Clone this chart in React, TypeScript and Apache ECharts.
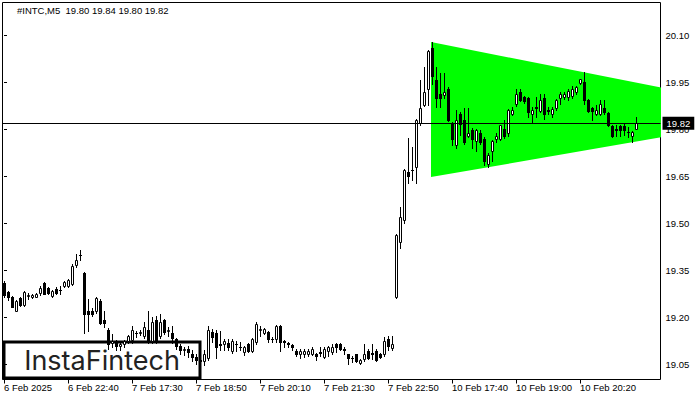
import React, { useEffect, useRef } from "react";
import * as echarts from "echarts";

const SYMBOL = "#INTC,M5";

// [open, close, low, high] per 5-minute bar
const FEB6_BARS: number[][] = [
  [19.31, 19.272, 19.265, 19.318], [19.28, 19.265, 19.255, 19.286], [19.265, 19.235, 19.232, 19.268],
  [19.222, 19.254, 19.22, 19.256], [19.262, 19.24, 19.236, 19.265], [19.24, 19.281, 19.237, 19.286],
  [19.27, 19.271, 19.258, 19.279], [19.265, 19.272, 19.262, 19.276], [19.266, 19.275, 19.264, 19.278],
  [19.278, 19.294, 19.272, 19.299], [19.31, 19.276, 19.274, 19.312], [19.294, 19.278, 19.276, 19.297],
  [19.27, 19.284, 19.266, 19.288], [19.292, 19.278, 19.275, 19.296], [19.288, 19.289, 19.276, 19.299],
  [19.299, 19.313, 19.297, 19.316], [19.3, 19.32, 19.298, 19.323], [19.307, 19.363, 19.305, 19.371],
  [19.366, 19.384, 19.36, 19.403], [19.398, 19.4, 19.385, 19.414],
];

const FEB7_BARS: number[][] = [
  [19.342, 19.212, 19.15, 19.345], [19.222, 19.212, 19.158, 19.26], [19.222, 19.212, 19.205, 19.23],
  [19.22, 19.263, 19.215, 19.265], [19.254, 19.182, 19.178, 19.258], [19.192, 19.182, 19.169, 19.222],
  [19.16, 19.115, 19.1, 19.165], [19.12, 19.125, 19.105, 19.148], [19.125, 19.11, 19.095, 19.128],
  [19.11, 19.115, 19.095, 19.122], [19.115, 19.125, 19.105, 19.128], [19.125, 19.142, 19.12, 19.145],
  [19.128, 19.16, 19.12, 19.174], [19.15, 19.152, 19.137, 19.158], [19.152, 19.155, 19.145, 19.16],
  [19.142, 19.171, 19.135, 19.185], [19.16, 19.126, 19.12, 19.222], [19.126, 19.185, 19.12, 19.2],
  [19.192, 19.126, 19.12, 19.206], [19.142, 19.185, 19.135, 19.212], [19.192, 19.153, 19.148, 19.196],
  [19.158, 19.16, 19.14, 19.17], [19.15, 19.135, 19.12, 19.174], [19.13, 19.11, 19.1, 19.135],
  [19.11, 19.095, 19.085, 19.115], [19.095, 19.1, 19.08, 19.105], [19.1, 19.09, 19.075, 19.11],
  [19.085, 19.075, 19.06, 19.095], [19.075, 19.065, 19.05, 19.085], [19.065, 19.06, 19.045, 19.075],
  [19.061, 19.082, 19.047, 19.095], [19.071, 19.161, 19.065, 19.174], [19.153, 19.139, 19.121, 19.164],
  [19.151, 19.105, 19.072, 19.16], [19.116, 19.112, 19.095, 19.158], [19.114, 19.124, 19.095, 19.132],
  [19.119, 19.105, 19.095, 19.132], [19.092, 19.124, 19.088, 19.13], [19.116, 19.114, 19.092, 19.124],
  [19.106, 19.105, 19.095, 19.121], [19.09, 19.105, 19.08, 19.11], [19.116, 19.094, 19.09, 19.12],
  [19.094, 19.132, 19.09, 19.135], [19.121, 19.18, 19.115, 19.185], [19.16, 19.162, 19.142, 19.174],
  [19.151, 19.164, 19.148, 19.167], [19.153, 19.132, 19.121, 19.158], [19.13, 19.13, 19.121, 19.138],
  [19.132, 19.174, 19.121, 19.176], [19.174, 19.121, 19.092, 19.176], [19.125, 19.122, 19.105, 19.127],
  [19.118, 19.116, 19.105, 19.121], [19.112, 19.105, 19.095, 19.116], [19.094, 19.082, 19.078, 19.1],
  [19.084, 19.094, 19.071, 19.1], [19.082, 19.094, 19.075, 19.1], [19.083, 19.094, 19.078, 19.1],
  [19.084, 19.1, 19.079, 19.105], [19.084, 19.076, 19.063, 19.088], [19.09, 19.088, 19.076, 19.105],
  [19.074, 19.1, 19.07, 19.105], [19.094, 19.105, 19.078, 19.11], [19.09, 19.105, 19.085, 19.115],
  [19.116, 19.105, 19.09, 19.12], [19.116, 19.1, 19.095, 19.12], [19.098, 19.097, 19.082, 19.105],
  [19.082, 19.071, 19.052, 19.085], [19.072, 19.071, 19.058, 19.078], [19.082, 19.061, 19.058, 19.085],
  [19.054, 19.065, 19.05, 19.068], [19.068, 19.084, 19.062, 19.116], [19.094, 19.071, 19.066, 19.1],
  [19.086, 19.085, 19.068, 19.116], [19.094, 19.063, 19.06, 19.1], [19.084, 19.073, 19.07, 19.087],
  [19.082, 19.124, 19.078, 19.137], [19.132, 19.108, 19.095, 19.142], [19.103, 19.116, 19.095, 19.142],
];

const FEB10_BARS: number[][] = [
  [19.265, 19.462, 19.262, 19.465], [19.44, 19.522, 19.422, 19.552], [19.512, 19.671, 19.5, 19.675],
  [19.664, 19.651, 19.629, 19.773], [19.671, 19.672, 19.639, 19.744], [19.68, 19.831, 19.629, 19.833],
  [19.821, 19.869, 19.815, 19.958], [19.877, 19.921, 19.875, 20.001], [19.93, 20.052, 19.877, 20.055],
  [20.061, 19.97, 19.946, 20.079], [19.959, 19.9, 19.871, 20.001], [19.912, 19.9, 19.873, 19.981],
  [19.911, 19.921, 19.9, 19.981], [19.93, 19.831, 19.826, 19.935], [19.82, 19.769, 19.749, 19.825],
  [19.751, 19.831, 19.741, 19.861], [19.85, 19.816, 19.781, 19.855], [19.831, 19.76, 19.755, 19.869],
  [19.78, 19.79, 19.776, 19.869], [19.799, 19.769, 19.741, 19.805], [19.762, 19.799, 19.731, 19.802],
  [19.79, 19.76, 19.755, 19.799], [19.77, 19.699, 19.688, 19.775], [19.69, 19.72, 19.68, 19.725],
  [19.731, 19.762, 19.701, 19.765], [19.77, 19.78, 19.76, 19.789], [19.77, 19.813, 19.765, 19.815],
  [19.802, 19.778, 19.774, 19.829], [19.788, 19.861, 19.78, 19.865], [19.85, 19.861, 19.845, 19.871],
  [19.88, 19.914, 19.876, 19.93], [19.921, 19.893, 19.89, 19.93], [19.903, 19.89, 19.885, 19.908],
  [19.901, 19.855, 19.839, 19.905], [19.85, 19.861, 19.823, 19.871], [19.871, 19.869, 19.839, 19.903],
  [19.859, 19.893, 19.855, 19.914], [19.901, 19.85, 19.834, 19.914], [19.861, 19.86, 19.85, 19.871],
  [19.85, 19.866, 19.84, 19.871], [19.869, 19.893, 19.861, 19.898], [19.901, 19.914, 19.882, 19.919],
  [19.903, 19.914, 19.898, 19.919], [19.903, 19.922, 19.893, 19.93], [19.908, 19.93, 19.9, 19.94],
  [19.919, 19.935, 19.914, 19.94], [19.948, 19.96, 19.944, 19.962], [19.951, 19.893, 19.88, 19.983],
  [19.893, 19.859, 19.855, 19.898], [19.869, 19.859, 19.829, 19.872], [19.85, 19.861, 19.845, 19.877],
  [19.85, 19.88, 19.845, 19.895], [19.869, 19.855, 19.85, 19.893], [19.852, 19.813, 19.81, 19.856],
  [19.81, 19.778, 19.775, 19.813], [19.8, 19.799, 19.778, 19.813], [19.81, 19.797, 19.778, 19.813],
  [19.81, 19.797, 19.781, 19.818], [19.792, 19.791, 19.776, 19.808], [19.778, 19.792, 19.76, 19.795],
  [19.8, 19.82, 19.8, 19.84],
];

const TIME_LABELS = [
  "6 Feb 2025", "6 Feb 22:40", "7 Feb 17:30", "7 Feb 18:50", "7 Feb 20:10",
  "7 Feb 21:30", "7 Feb 22:50", "10 Feb 17:40", "10 Feb 19:00", "10 Feb 20:20",
];
const LABEL_STEP_BARS = 16;

const PRICE_TICKS = ["19.05", "19.20", "19.35", "19.50", "19.65", "19.80", "19.95", "20.10"];
const CURRENT_PRICE = 19.82;

// symmetrical triangle pattern vertices (bar index, price)
const TRIANGLE_BARS = [106.75, 197.8, 106.75];
const TRIANGLE_PRICES = [20.079, 19.85, 19.648];

const X_RANGE = [-0.375, 164.125];
const Y_RANGE = [19.0021, 20.2053];

const FONT = "Liberation Sans, Arial, sans-serif";

export default function App() {
  const ref = useRef<HTMLDivElement>(null);

  useEffect(() => {
    document.body.style.margin = "0";
    if (!ref.current) return;
    const chart = echarts.init(ref.current, undefined, { renderer: "svg" });

    const bars = [...FEB6_BARS, ...FEB7_BARS, ...FEB10_BARS];
    const candleData = bars.map((b, i) => [i, b[0], b[1], b[2], b[3]]);
    const last = bars[bars.length - 1];
    const titleText = `${SYMBOL}  ${last[0].toFixed(2)} ${last[3].toFixed(2)} ${last[2].toFixed(2)} ${last[1].toFixed(2)}`;
    const tickIdx = TIME_LABELS.map((_, k) => k * LABEL_STEP_BARS);
    const priceTicks = PRICE_TICKS.map(Number);

    const option: any = {
      animation: false,
      backgroundColor: "#fff",
      title: {
        text: titleText,
        left: 17,
        top: 5,
        padding: 0,
        textStyle: { fontSize: 9.5, fontWeight: "normal", color: "#000", fontFamily: FONT },
      },
      grid: {
        left: 2.5,
        top: 2.5,
        right: 39.5,
        bottom: 20.5,
        show: true,
        borderColor: "#000",
        borderWidth: 1,
        backgroundColor: "transparent",
      },
      xAxis: {
        type: "value",
        min: X_RANGE[0],
        max: X_RANGE[1],
        axisLine: { show: false },
        splitLine: { show: false },
        axisTick: {
          show: true,
          length: 4,
          lineStyle: { color: "#000" },
          customValues: tickIdx,
        },
        axisLabel: {
          customValues: tickIdx,
          formatter: (v: number) => TIME_LABELS[Math.round(v / LABEL_STEP_BARS)] ?? "",
          align: "left",
          margin: 3,
          color: "#000",
          fontSize: 9.5,
          fontFamily: FONT,
        },
      },
      yAxis: {
        type: "value",
        position: "right",
        min: Y_RANGE[0],
        max: Y_RANGE[1],
        axisLine: { show: false },
        splitLine: { show: false },
        axisTick: {
          show: true,
          length: 3,
          lineStyle: { color: "#000" },
          customValues: priceTicks,
        },
        axisLabel: {
          customValues: priceTicks,
          formatter: (v: number) => v.toFixed(2),
          margin: 5,
          color: "#000",
          fontSize: 9.5,
          fontFamily: FONT,
        },
      },
      series: [
        {
          type: "custom",
          name: "triangle",
          silent: true,
          clip: true,
          z: 1,
          data: [[TRIANGLE_BARS[0], TRIANGLE_PRICES[0]]],
          renderItem: (_p: any, api: any) => {
            const points = TRIANGLE_BARS.map((b, k) => api.coord([b, TRIANGLE_PRICES[k]]));
            return { type: "polygon", shape: { points }, style: { fill: "#00ff00" } };
          },
        },
        {
          type: "custom",
          name: "candles",
          silent: true,
          clip: true,
          z: 3,
          data: candleData,
          renderItem: (_p: any, api: any) => {
            const i = api.value(0);
            const o = api.value(1);
            const c = api.value(2);
            const l = api.value(3);
            const h = api.value(4);
            const pH = api.coord([i, h]);
            const pL = api.coord([i, l]);
            const pO = api.coord([i, o]);
            const pC = api.coord([i, c]);
            const cx = Math.floor(pH[0]) + 0.5;
            const yH = Math.round(pH[1]);
            const yL = Math.round(pL[1]);
            const yT = Math.round(Math.min(pO[1], pC[1]));
            const yB = Math.round(Math.max(pO[1], pC[1]));
            const children: any[] = [
              { type: "line", shape: { x1: cx, y1: yH, x2: cx, y2: yL + 1 }, style: { stroke: "#000", lineWidth: 1 } },
            ];
            if (yB - yT < 1) {
              children.push({
                type: "line",
                shape: { x1: cx - 1.5, y1: yT + 0.5, x2: cx + 1.5, y2: yT + 0.5 },
                style: { stroke: "#000", lineWidth: 1 },
              });
            } else if (c < o) {
              children.push({
                type: "rect",
                shape: { x: cx - 1.5, y: yT, width: 3, height: yB - yT + 1 },
                style: { fill: "#000" },
              });
            } else {
              children.push({
                type: "rect",
                shape: { x: cx - 1, y: yT + 0.5, width: 2, height: yB - yT },
                style: { fill: "#fff", stroke: "#000", lineWidth: 1 },
              });
            }
            return { type: "group", children };
          },
          markLine: {
            silent: true,
            symbol: ["none", "none"],
            lineStyle: { color: "#000", width: 1, type: "solid" },
            emphasis: { disabled: true },
            label: {
              show: true,
              position: "end",
              distance: 2,
              formatter: CURRENT_PRICE.toFixed(2),
              color: "#fff",
              backgroundColor: "#000",
              padding: [2, 4, 1, 4],
              fontSize: 9.5,
              fontFamily: FONT,
            },
            data: [{ yAxis: CURRENT_PRICE }],
          },
        },
      ],
      graphic: [
        {
          type: "group",
          z: 100,
          children: [
            {
              type: "rect",
              shape: { x: 4, y: 342, width: 196, height: 36 },
              style: { fill: "#fff", stroke: "#000", lineWidth: 3 },
            },
            {
              type: "text",
              x: 102,
              y: 360,
              style: {
                text: "InstaFintech",
                fill: "#222",
                fontSize: 27,
                fontWeight: 400,
                fontFamily: "Inter, Noto Sans, sans-serif",
                align: "center",
                verticalAlign: "middle",
                textAlign: "center",
                textVerticalAlign: "middle",
              },
            },
          ],
        },
      ],
    };

    chart.setOption(option);
    return () => chart.dispose();
  }, []);

  return <div ref={ref} style={{ width: 700, height: 400 }} />;
}
